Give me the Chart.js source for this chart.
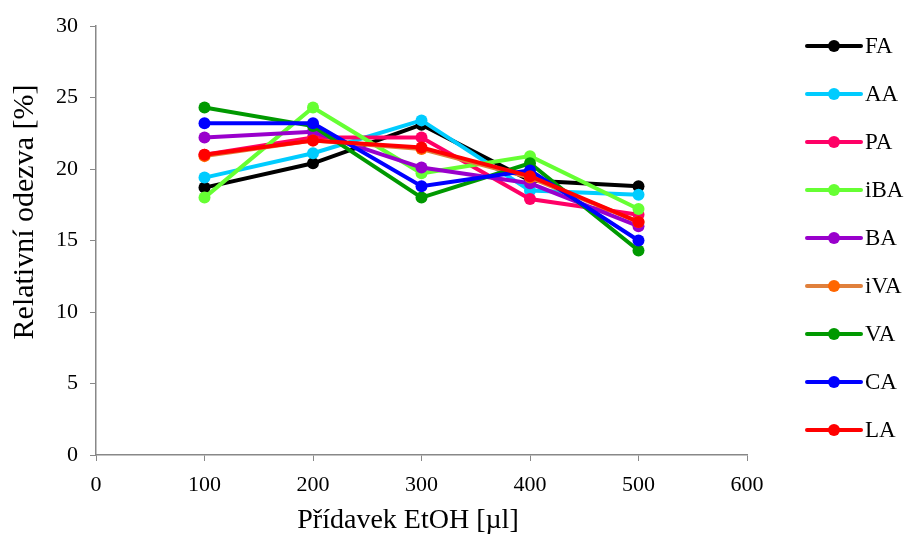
<!DOCTYPE html>
<html>
<head>
<meta charset="utf-8">
<script src="https://cdn.jsdelivr.net/npm/chart.js@4/dist/chart.umd.min.js"></script>
<style>
  html, body { margin: 0; padding: 0; background: #fff; }
  #wrap { width: 908px; height: 538px; }
</style>
</head>
<body>
<div id="wrap"><canvas id="chart" width="908" height="538"></canvas></div>
<script>
// ethanol added (µl)
const etohAdded = [100, 200, 300, 400, 500];

// relative response (%) per acid
const seriesNames = ['FA', 'AA', 'PA', 'iBA', 'BA', 'iVA', 'VA', 'CA', 'LA'];
const valFA  = [18.7, 20.4, 23.1, 19.2, 18.8];
const valAA  = [19.4, 21.1, 23.4, 18.5, 18.2];
const valPA  = [21.0, 22.2, 22.2, 17.9, 16.8];
const valiBA = [18.0, 24.3, 19.7, 20.9, 17.2];
const valBA  = [22.2, 22.6, 20.1, 19.0, 16.0];
const valiVA = [20.9, 22.0, 21.4, 19.4, 16.3];
const valVA  = [24.3, 23.0, 18.0, 20.4, 14.3];
const valCA  = [23.2, 23.2, 18.8, 19.9, 15.0];
const valLA  = [21.0, 22.0, 21.5, 19.5, 16.3];
const seriesValues = [valFA, valAA, valPA, valiBA, valBA, valiVA, valVA, valCA, valLA];

const lineColors  = ['#000000', '#00CCFF', '#FF0066', '#66FF33', '#9900CC', '#E0803C', '#009900', '#0000FF', '#FF0000'];
const pointColors = ['#000000', '#00CCFF', '#FF0066', '#66FF33', '#9900CC', '#FF6600', '#009900', '#0000FF', '#FF0000'];

const yTitle = 'Relativní odezva [%]';
const xTitle = 'Přídavek EtOH [µl]';

const serif = "'Liberation Serif', 'Times New Roman', serif";

const datasets = seriesNames.map((name, i) => ({
    label: name,
    data: etohAdded.map((x, j) => ({ x: x, y: seriesValues[i][j] })),
    borderColor: lineColors[i],
    backgroundColor: pointColors[i],
    pointBackgroundColor: pointColors[i],
    pointBorderColor: pointColors[i],
    borderWidth: 4,
    pointRadius: 6,
    pointBorderWidth: 0,
    tension: 0,
    // last series ends up on top
    order: seriesNames.length - i
}));

// legend on the right (short line with a dot, then the name) and both axis titles
const sideLegend = {
    id: 'sideLegend',
    afterDraw(chart) {
        const ctx = chart.ctx;
        ctx.save();
        ctx.font = '23px ' + serif;
        ctx.textBaseline = 'middle';
        ctx.textAlign = 'left';
        chart.data.datasets.forEach((ds, i) => {
            const y = 46 + i * 48.0;
            ctx.beginPath();
            ctx.moveTo(807, y);
            ctx.lineTo(861, y);
            ctx.strokeStyle = ds.borderColor;
            ctx.lineWidth = 4;
            ctx.lineCap = 'round';
            ctx.stroke();
            ctx.beginPath();
            ctx.arc(834, y, 6, 0, 2 * Math.PI);
            ctx.fillStyle = ds.pointBackgroundColor;
            ctx.fill();
            ctx.fillStyle = '#000';
            ctx.fillText(ds.label, 865, y + 1);
        });

        ctx.textAlign = 'center';
        ctx.font = '28px ' + serif;
        ctx.fillText(xTitle, 408, 521);

        ctx.translate(25, 212);
        ctx.rotate(-Math.PI / 2);
        ctx.font = '30px ' + serif;
        ctx.fillText(yTitle, 0, 0);
        ctx.restore();
    }
};

new Chart(document.getElementById('chart'), {
    type: 'line',
    data: { datasets: datasets },
    options: {
        responsive: false,
        animation: false,
        layout: { padding: { top: 26, right: 161, left: 0, bottom: 0 } },
        plugins: { legend: { display: false }, tooltip: { enabled: false } },
        scales: {
            x: {
                type: 'linear',
                min: 0,
                max: 600,
                ticks: { stepSize: 100, color: '#000', font: { family: serif, size: 22 }, padding: 11 },
                grid: { drawOnChartArea: false, color: '#888', tickLength: 6 },
                border: { color: '#888', width: 1.5 },
                afterFit(scale) { scale.height = 83; }
            },
            y: {
                min: 0,
                max: 30,
                ticks: { stepSize: 5, color: '#000', font: { family: serif, size: 22 }, padding: 12 },
                grid: { drawOnChartArea: false, color: '#888', tickLength: 6 },
                border: { color: '#888', width: 1.5 },
                afterFit(scale) { scale.width = 96; }
            }
        }
    },
    plugins: [sideLegend]
});
</script>
</body>
</html>
